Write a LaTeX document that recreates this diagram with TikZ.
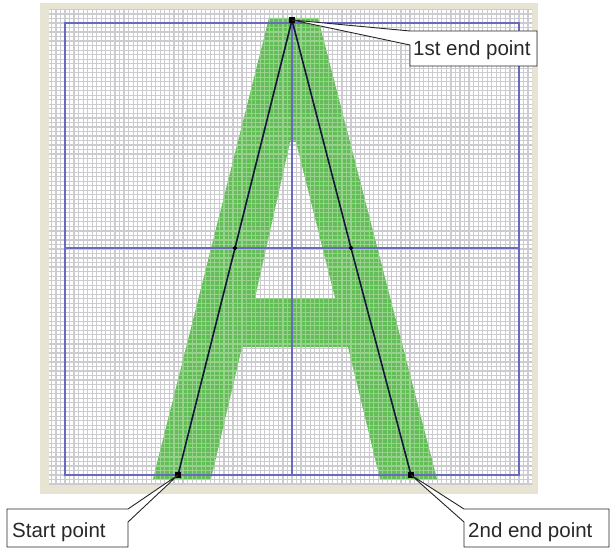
\documentclass[tikz,border=0pt]{standalone}
\usepackage{fontspec}
\setmainfont{Liberation Sans}
\usetikzlibrary{shapes.geometric}
\definecolor{frameC}{RGB}{232,228,212}
\definecolor{gridC}{RGB}{204,204,208}
\definecolor{gridG}{RGB}{150,210,140}
\definecolor{greenA}{RGB}{100,190,88}
\definecolor{blueL}{RGB}{105,105,192}
\definecolor{skel}{RGB}{22,22,60}
\definecolor{txt}{RGB}{40,40,40}
\tikzset{
  gridline/.style={draw=gridC, line width=1.2bp},
  gridgreen/.style={draw=gridG, line width=1.2bp},
  bluel/.style={draw=blueL, line width=1.8bp},
  skelline/.style={draw=skel, line width=1.6bp},
  ptsq/.style={fill=black, minimum size=6bp, inner sep=0pt, rectangle},
  ptmid/.style={fill=black, minimum size=5bp, inner sep=0pt, diamond},
  callout/.style={draw=black!85, fill=white, line width=0.9bp, line join=miter},
  lbl/.style={text=txt, font=\fontsize{20.5bp}{23bp}\selectfont, inner sep=0pt, anchor=base west}
}
\begin{document}
\begin{tikzpicture}[x=1bp,y=-1bp]
\useasboundingbox (0,0) rectangle (611,548);
% window frame
\fill[frameC] (40,3) rectangle (538,494);
\fill[white] (49,10) rectangle (532,484);
% grid
\begin{scope}
\clip (49,10) rectangle (532,484);
\foreach \k in {-4,...,104} {
  \draw[gridline] ({65+\k*4.54},0) -- ({65+\k*4.54},500);
  \draw[gridline] (40,{23+\k*4.52}) -- (540,{23+\k*4.52});
}
\end{scope}
% letter A
\def\Apath{(269,18) -- (318,18) -- (437,479) -- (380,479) -- (348,347) -- (242,347) -- (211,479) -- (153,479) -- cycle
  (290,142) -- (296,142) -- (335,298) -- (255,298) -- cycle}
\fill[greenA, even odd rule] \Apath;
\begin{scope}[even odd rule]
\clip \Apath;
\foreach \k in {-4,...,104} {
  \draw[gridgreen] ({65+\k*4.54},0) -- ({65+\k*4.54},500);
  \draw[gridgreen] (40,{23+\k*4.52}) -- (540,{23+\k*4.52});
}
\end{scope}
% blue guide lines
\draw[bluel] (65,23) rectangle (519,475);
\draw[bluel] (292,23) -- (292,475);
\draw[bluel] (65,248) -- (519,248);
% skeleton points
\coordinate (top) at (292,20);
\coordinate (sp) at (178,475);
\coordinate (ep) at (411,475);
\coordinate (ml) at (235,248);
\coordinate (mr) at (351,248);
\draw[skelline] (sp) -- (ml) -- (top) -- (mr) -- (ep);
\node[ptsq] (ntop) at (top) {};
\node[ptsq] (nsp) at (sp) {};
\node[ptsq] (nep) at (ep) {};
\node[ptmid] (nml) at (ml) {};
\node[ptmid] (nmr) at (mr) {};
% callouts
\coordinate (c1a) at (410,31);
\coordinate (c1b) at (410,45);
\draw[callout] (top) -- (c1a) -- (537,31) -- (537,66) -- (410,66) -- (c1b) -- cycle;
\node[lbl] (l1) at (413,56) {1st end point};
\coordinate (c2a) at (128,509);
\coordinate (c2b) at (128,522);
\draw[callout] (sp) -- (c2b) -- (128,547) -- (7,547) -- (7,509) -- (c2a) -- cycle;
\node[lbl] (l2) at (12,537) {Start point};
\coordinate (c3a) at (464,509);
\coordinate (c3b) at (464,522);
\draw[callout] (ep) -- (c3a) -- (609,509) -- (609,547) -- (464,547) -- (c3b) -- cycle;
\node[lbl] (l3) at (468,537) {2nd end point};
\end{tikzpicture}
\end{document}
